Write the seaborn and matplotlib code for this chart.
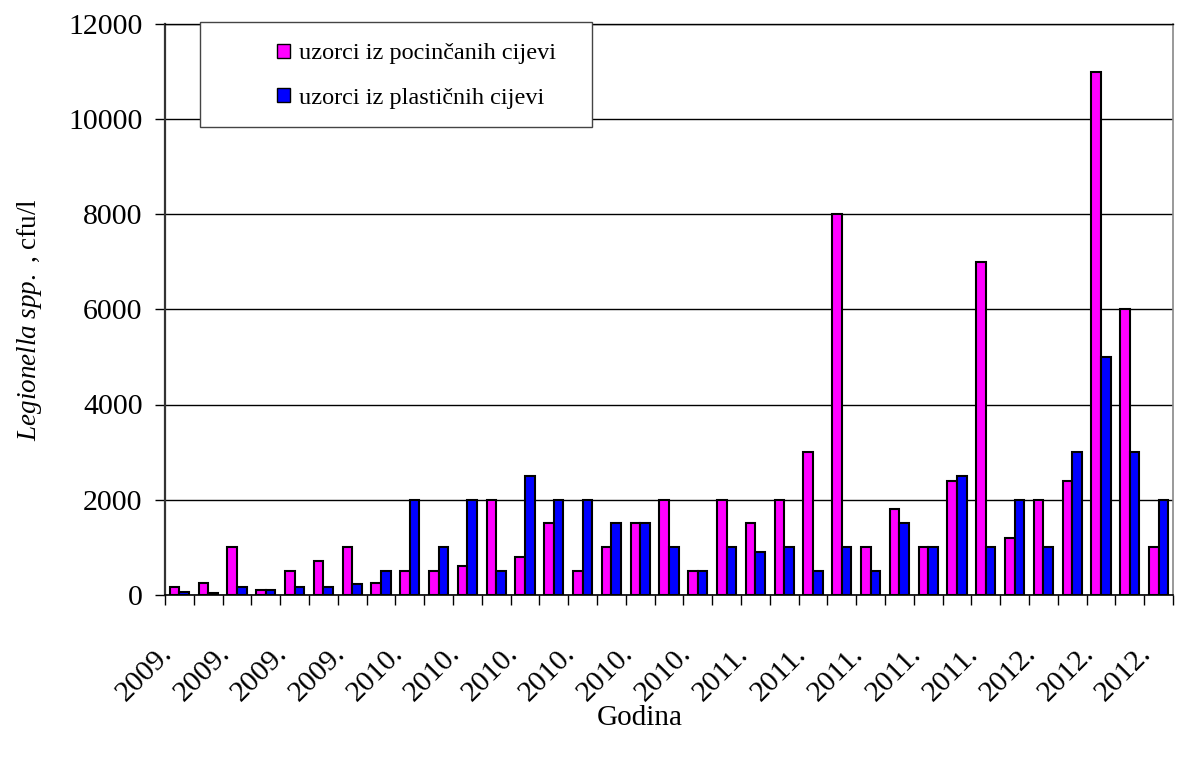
import matplotlib
matplotlib.use("Agg")
import matplotlib.pyplot as plt
import matplotlib.transforms as mtransforms
from matplotlib.patches import Rectangle
import numpy as np
import pandas as pd
import seaborn as sns

# ---- data ----
samples = [str(i) for i in range(1, 36)]
pocincane = [170, 250, 1000, 90, 500, 700, 1000, 250, 500, 500,
             600, 2000, 800, 1500, 500, 1000, 1500, 2000, 500, 2000,
             1500, 2000, 3000, 8000, 1000, 1800, 1000, 2400, 7000, 1200,
             2000, 2400, 11000, 6000, 1000]
plasticne = [50, 40, 170, 90, 170, 170, 220, 500, 2000, 1000,
             2000, 500, 2500, 2000, 2000, 1500, 1500, 1000, 500, 1000,
             900, 1000, 500, 1000, 500, 1500, 1000, 2500, 1000, 2000,
             1000, 3000, 5000, 3000, 2000]
series_names = ["uzorci iz pocinčanih cijevi", "uzorci iz plastičnih cijevi"]
year_labels = ["2009.", "2009.", "2009.", "2009.",
               "2010.", "2010.", "2010.", "2010.", "2010.", "2010.",
               "2011.", "2011.", "2011.", "2011.", "2011.",
               "2012.", "2012.", "2012."]
y_ticks = [0, 2000, 4000, 6000, 8000, 10000, 12000]

df = pd.DataFrame({
    "uzorak": samples * 2,
    "cfu": pocincane + plasticne,
    "serija": [series_names[0]] * len(samples) + [series_names[1]] * len(samples),
})

sns.set_theme(style="white")
plt.rcParams["font.family"] = ["Liberation Serif", "DejaVu Serif"]
plt.rcParams["mathtext.fontset"] = "custom"
plt.rcParams["mathtext.rm"] = "Liberation Serif"
plt.rcParams["mathtext.it"] = "Liberation Serif:italic"
plt.rcParams["text.color"] = "black"
plt.rcParams["xtick.color"] = "black"
plt.rcParams["ytick.color"] = "black"

W, H = 1178, 758
fig = plt.figure(figsize=(W / 100, H / 100), dpi=100)
ax = fig.add_axes([165 / W, 1 - 594.6 / H, (1173 - 165) / W, (594.6 - 24.3) / H])

sns.barplot(data=df, x="uzorak", y="cfu", hue="serija", order=samples,
            hue_order=series_names, palette=["#FF00FF", "#0000FF"],
            saturation=1, width=0.67, edgecolor="black", linewidth=1.5, ax=ax,
            errorbar=None, legend=True)

ax.set_xlim(-0.5, len(samples) - 0.5)
ax.set_ylim(0, 12000)
ax.set_yticks(y_ticks)
ax.set_yticklabels([str(v) for v in y_ticks], fontsize=21.5)
ax.tick_params(axis="y", which="major", direction="out", length=7.2, width=1,
               color="black", pad=9, left=True)

ax.set_xticks(np.arange(0, len(samples), 2))
ax.set_xticklabels(year_labels, fontsize=21.5)
ax.set_xticks(np.arange(-0.5, len(samples), 1), minor=True)
ax.tick_params(axis="x", which="major", length=0, pad=43.5)
ax.tick_params(axis="x", which="minor", direction="out", length=7.2, width=1,
               color="black", bottom=True)
offset = mtransforms.ScaledTranslation(-6 / 100, 0, fig.dpi_scale_trans)
for lab in ax.get_xticklabels():
    lab.set_rotation(45)
    lab.set_ha("right")
    lab.set_va("baseline")
    lab.set_rotation_mode("anchor")
    lab.set_transform(lab.get_transform() + offset)

ax.yaxis.grid(True, color="black", linewidth=1.0)
ax.set_axisbelow(True)
ax.set_xlabel("")
ax.set_ylabel("")
for side in ["left", "bottom", "right", "top"]:
    ax.spines[side].set_visible(True)
ax.spines["left"].set_color("#333333")
ax.spines["left"].set_linewidth(1.6)
ax.spines["bottom"].set_color("black")
ax.spines["bottom"].set_linewidth(1.2)
ax.spines["right"].set_color("#888888")
ax.spines["right"].set_linewidth(1.2)
ax.spines["top"].set_color("black")
ax.spines["top"].set_linewidth(1.0)

# legend box + legend
ax.add_patch(Rectangle((200 / W, 1 - 126.7 / H), (592 - 200) / W, (126.7 - 21.7) / H,
                       transform=fig.transFigure, facecolor="white",
                       edgecolor="#444444", linewidth=1.0, zorder=5, clip_on=False))
leg = ax.legend(loc="center left", bbox_to_anchor=(277 / W, 1 - 76 / H),
                bbox_transform=fig.transFigure, frameon=False, fontsize=17.5,
                handlelength=0.55, handleheight=0.55, handletextpad=0.34,
                labelspacing=0.95, borderpad=0, borderaxespad=0)
for h in leg.legend_handles:
    h.set_edgecolor("black")
    h.set_linewidth(1.0)
leg.set_zorder(10)

fig.text(30 / W, 1 - 320 / H, r"$\mathit{Legionella\ spp.}$ , cfu/l", rotation=90,
         ha="center", va="center", fontsize=19.5)
fig.text(640 / W, 1 - 718 / H, "Godina", ha="center", va="center", fontsize=21)

fig.savefig("out.png", dpi=100)
